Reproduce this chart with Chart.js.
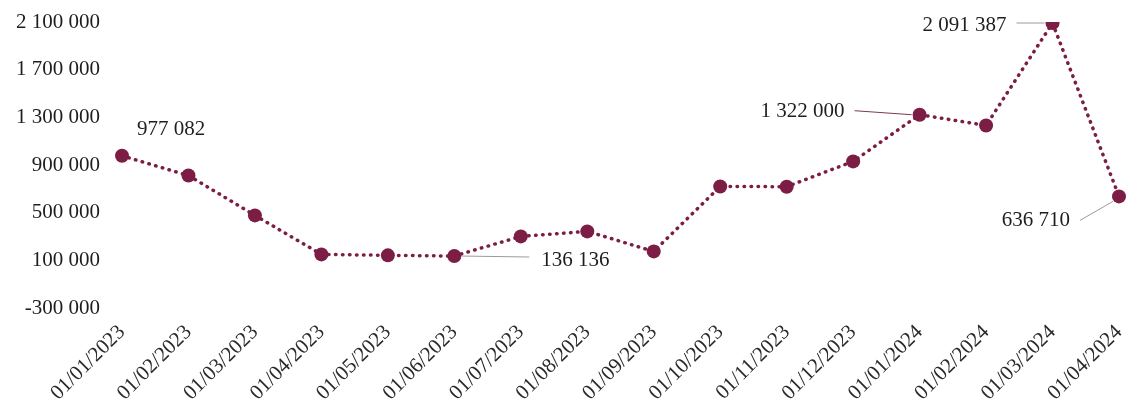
<!DOCTYPE html>
<html>
<head>
<meta charset="utf-8">
<script src="https://cdn.jsdelivr.net/npm/chart.js@4/dist/chart.umd.min.js"></script>
<style>
  html, body { margin: 0; padding: 0; background: #fff; }
  #wrap { width: 1126px; height: 414px; }
</style>
</head>
<body>
<div id="wrap"><canvas id="chart"></canvas></div>
<script>
const months = ["01/01/2023", "01/02/2023", "01/03/2023", "01/04/2023", "01/05/2023", "01/06/2023",
  "01/07/2023", "01/08/2023", "01/09/2023", "01/10/2023", "01/11/2023", "01/12/2023",
  "01/01/2024", "01/02/2024", "01/03/2024", "01/04/2024"];
const values = [977082, 812000, 477000, 150000, 142000, 136136, 301000, 343000, 175000,
  720000, 718000, 930000, 1322000, 1232000, 2091387, 636710];
const yTicks = [-300000, 100000, 500000, 900000, 1300000, 1700000, 2100000];
// which points carry a value label
const labelled = [0, 5, 12, 14, 15];

const fmt = v => {
  const s = Math.abs(Math.round(v)).toString().replace(/\B(?=(\d{3})+(?!\d))/g, " ");
  return (v < 0 ? "-" : "") + s;
};

const serif = "'Liberation Serif', 'DejaVu Serif', serif";
const maroon = "#7b1d45";

// value labels with leader lines, placed relative to each point
const calloutPlugin = {
  id: "callouts",
  afterDatasetsDraw(chart) {
    const ctx = chart.ctx;
    const pts = chart.getDatasetMeta(0).data;
    ctx.save();
    ctx.font = "21px " + serif;
    ctx.fillStyle = "#1e1e1e";
    ctx.textBaseline = "middle";
    labelled.forEach(i => {
      const p = pts[i];
      const txt = fmt(values[i]);
      ctx.lineWidth = 1;
      ctx.strokeStyle = "#9a9a9a";
      if (i === 0) {
        ctx.textAlign = "left";
        ctx.fillText(txt, p.x + 15, p.y - 26);
      } else if (i === 5) {
        ctx.beginPath(); ctx.moveTo(p.x + 7, p.y); ctx.lineTo(p.x + 75, p.y + 1); ctx.stroke();
        ctx.textAlign = "left";
        ctx.fillText(txt, p.x + 87, p.y + 4);
      } else if (i === 12) {
        ctx.strokeStyle = "#7a3a52";
        ctx.beginPath(); ctx.moveTo(p.x - 65, p.y - 4); ctx.lineTo(p.x - 8, p.y); ctx.stroke();
        ctx.textAlign = "right";
        ctx.fillText(txt, p.x - 75, p.y - 3);
      } else if (i === 14) {
        ctx.beginPath(); ctx.moveTo(p.x - 36, p.y); ctx.lineTo(p.x - 8, p.y); ctx.stroke();
        ctx.textAlign = "right";
        ctx.fillText(txt, p.x - 46, p.y + 2);
      } else if (i === 15) {
        ctx.beginPath(); ctx.moveTo(p.x - 39, p.y + 24); ctx.lineTo(p.x - 6, p.y + 5); ctx.stroke();
        ctx.textAlign = "right";
        ctx.fillText(txt, p.x - 49, p.y + 24);
      }
    });
    ctx.restore();
  }
};

new Chart(document.getElementById("chart"), {
  type: "line",
  data: {
    labels: months,
    datasets: [{
      data: values,
      borderColor: maroon,
      borderWidth: 3.5,
      borderDash: [0.5, 6.5],
      borderCapStyle: "round",
      tension: 0,
      pointRadius: 7,
      pointBackgroundColor: maroon,
      pointBorderColor: maroon,
      pointBorderWidth: 0
    }]
  },
  options: {
    responsive: true,
    maintainAspectRatio: false,
    animation: false,
    layout: { padding: { top: 22, right: 7, left: 0, bottom: 0 } },
    plugins: { legend: { display: false }, tooltip: { enabled: false } },
    scales: {
      x: {
        offset: false,
        grid: { display: false, drawTicks: false },
        border: { display: false },
        ticks: {
          autoSkip: false,
          minRotation: 45,
          maxRotation: 45,
          padding: 12,
          color: "#2a2a2a",
          font: { family: serif, size: 21 }
        },
        afterFit: s => { s.height = 106; s.paddingRight = 0; s.paddingLeft = 0; }
      },
      y: {
        min: -300000,
        max: 2100000,
        grid: { display: false, drawTicks: false },
        border: { display: false },
        afterBuildTicks: s => { s.ticks = yTicks.map(v => ({ value: v })); },
        afterFit: s => { s.width = 122; s.paddingTop = 0; s.paddingBottom = 0; },
        ticks: {
          padding: 22,
          color: "#1e1e1e",
          font: { family: serif, size: 21 },
          callback: v => fmt(v)
        }
      }
    }
  },
  plugins: [calloutPlugin]
});
</script>
</body>
</html>
